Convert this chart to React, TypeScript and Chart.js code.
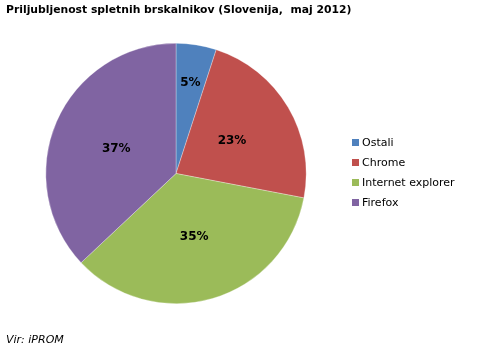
import React, { useEffect, useRef } from "react";
import { Chart, registerables } from "chart.js";

Chart.register(...registerables);

const TITLE = "Priljubljenost spletnih brskalnikov (Slovenija,  maj 2012)";
const SOURCE = "Vir: iPROM";
const categories = ["Ostali", "Chrome", "Internet explorer", "Firefox"];
const shares = [5, 23, 35, 37];
const colors = ["#4F81BD", "#C0504D", "#9BBB59", "#8064A2"];

const textPlugin = {
  id: "textPlugin",
  afterDraw(chart: any) {
    const ctx = chart.ctx;
    ctx.save();
    // title
    ctx.fillStyle = "#000";
    ctx.textBaseline = "middle";
    ctx.textAlign = "left";
    ctx.font = "bold 10.8px 'DejaVu Sans'";
    ctx.fillText(TITLE, 6, 10);
    // legend
    ctx.font = "11px 'DejaVu Sans'";
    categories.forEach((c, i) => {
      const y = 143 + i * 20;
      ctx.fillStyle = colors[i];
      ctx.fillRect(352, y - 4, 7, 7);
      ctx.fillStyle = "#000";
      ctx.fillText(c, 362, y);
    });
    // source
    ctx.font = "italic 11px 'DejaVu Sans'";
    ctx.fillStyle = "#000";
    ctx.fillText(SOURCE, 6, 340);
    // slice labels
    const meta = chart.getDatasetMeta(0);
    ctx.font = "bold 12px 'DejaVu Sans'";
    ctx.textAlign = "center";
    meta.data.forEach((arc: any, i: number) => {
      const mid = (arc.startAngle + arc.endAngle) / 2;
      const frac = shares[i] < 10 ? 0.71 : 0.5;
      const r = arc.outerRadius * frac;
      const x = arc.x + Math.cos(mid) * r;
      const y = arc.y + Math.sin(mid) * r + 1;
      ctx.fillText(shares[i] + "%", x, y);
    });
    ctx.restore();
  },
};

export default function App() {
  const ref = useRef<HTMLCanvasElement>(null);
  useEffect(() => {
    if (!ref.current) return;
    const chart = new Chart(ref.current, {
      type: "pie",
      data: {
        labels: categories,
        datasets: [
          {
            data: shares,
            backgroundColor: colors,
            borderColor: "rgba(255,255,255,0.5)",
            borderWidth: 0.6,
          },
        ],
      },
      options: {
        responsive: false,
        animation: false,
        layout: { padding: { left: 45, right: 189, top: 43, bottom: 47 } },
        plugins: {
          legend: { display: false },
          tooltip: { enabled: false },
          title: { display: false },
        },
      },
      plugins: [textPlugin],
    });
    return () => chart.destroy();
  }, []);
  return (
    <div style={{ position: "fixed", left: 0, top: 0, width: 496, height: 351, background: "#fff" }}>
      <canvas ref={ref} width={496} height={351} style={{ width: 496, height: 351 }} />
    </div>
  );
}
